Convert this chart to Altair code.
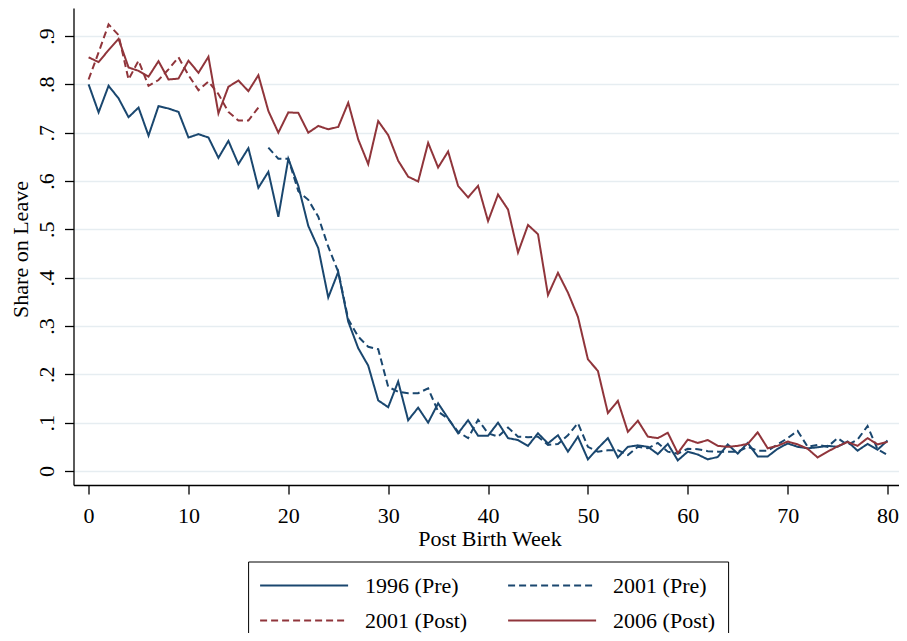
import altair as alt
import pandas as pd

# ---- data ----
weeks_all = list(range(0, 81))

share_1996_pre = [
    0.800, 0.742, 0.797, 0.771, 0.732, 0.752, 0.694, 0.755, 0.750, 0.743,
    0.690, 0.697, 0.690, 0.648, 0.683, 0.635, 0.668, 0.586, 0.619, 0.526,
    0.646, 0.590, 0.507, 0.461, 0.359, 0.412, 0.309, 0.254, 0.218, 0.146,
    0.132, 0.185, 0.105, 0.131, 0.100, 0.140, 0.109, 0.078, 0.105, 0.073,
    0.073, 0.100, 0.068, 0.064, 0.052, 0.078, 0.057, 0.074, 0.040, 0.071,
    0.024, 0.047, 0.068, 0.028, 0.050, 0.053, 0.050, 0.035, 0.056, 0.022,
    0.040, 0.034, 0.024, 0.029, 0.055, 0.036, 0.058, 0.030, 0.030, 0.046,
    0.057, 0.050, 0.047, 0.049, 0.052, 0.050, 0.061, 0.042, 0.056, 0.044,
    0.063,
]

weeks_2001_post = list(range(0, 18))
share_2001_post = [
    0.810, 0.866, 0.924, 0.902, 0.810, 0.849, 0.797, 0.809, 0.831, 0.856,
    0.819, 0.788, 0.806, 0.780, 0.743, 0.725, 0.725, 0.752,
]

weeks_2001_pre = list(range(18, 81))
share_2001_pre = [
    0.669, 0.646, 0.646, 0.579, 0.561, 0.526, 0.464, 0.412, 0.314, 0.278,
    0.257, 0.252, 0.174, 0.164, 0.161, 0.161, 0.171, 0.123, 0.108, 0.081,
    0.068, 0.106, 0.078, 0.071, 0.090, 0.071, 0.070, 0.071, 0.054, 0.056,
    0.074, 0.099, 0.050, 0.040, 0.043, 0.043, 0.033, 0.050, 0.047, 0.058,
    0.040, 0.036, 0.046, 0.045, 0.041, 0.040, 0.040, 0.040, 0.050, 0.042,
    0.042, 0.055, 0.068, 0.083, 0.050, 0.054, 0.050, 0.068, 0.054, 0.065,
    0.093, 0.045, 0.033,
]

share_2006_post = [
    0.856, 0.846, 0.871, 0.894, 0.835, 0.828, 0.816, 0.848, 0.810, 0.812,
    0.849, 0.824, 0.857, 0.740, 0.795, 0.808, 0.786, 0.819, 0.745, 0.700,
    0.742, 0.741, 0.700, 0.714, 0.707, 0.712, 0.762, 0.686, 0.635, 0.724,
    0.695, 0.642, 0.609, 0.599, 0.679, 0.628, 0.661, 0.590, 0.566, 0.590,
    0.517, 0.572, 0.541, 0.452, 0.509, 0.490, 0.364, 0.410, 0.369, 0.319,
    0.231, 0.207, 0.120, 0.145, 0.081, 0.104, 0.071, 0.068, 0.079, 0.037,
    0.065, 0.058, 0.064, 0.052, 0.050, 0.052, 0.056, 0.080, 0.047, 0.052,
    0.061, 0.055, 0.046, 0.028, 0.040, 0.051, 0.060, 0.052, 0.068, 0.055,
    0.060,
]

series_order = ["1996 (Pre)", "2001 (Pre)", "2001 (Post)", "2006 (Post)"]
series_colors = ["#1a476f", "#1a476f", "#90353b", "#90353b"]
series_dashes = [[1, 0], [7, 4], [7, 4], [1, 0]]

x_ticks = [0, 10, 20, 30, 40, 50, 60, 70, 80]
y_ticks = [0.0, 0.1, 0.2, 0.3, 0.4, 0.5, 0.6, 0.7, 0.8, 0.9]

rows = []
for w, v in zip(weeks_all, share_1996_pre):
    rows.append({"week": w, "share": v, "series": "1996 (Pre)"})
for w, v in zip(weeks_2001_pre, share_2001_pre):
    rows.append({"week": w, "share": v, "series": "2001 (Pre)"})
for w, v in zip(weeks_2001_post, share_2001_post):
    rows.append({"week": w, "share": v, "series": "2001 (Post)"})
for w, v in zip(weeks_all, share_2006_post):
    rows.append({"week": w, "share": v, "series": "2006 (Post)"})
df = pd.DataFrame(rows)

FONT = "Liberation Serif"


def make_legend():
    return alt.Legend(
        title=None,
        orient="none",
        direction="horizontal",
        legendX=174.6,
        legendY=553.5,
        columns=2,
        symbolType="M-4,0H4",
        symbolSize=484,
        symbolStrokeWidth=2,
        symbolOffset=32,
        labelOffset=49,
        labelFont=FONT,
        labelFontSize=22,
        labelColor="black",
        labelLimit=0,
        strokeColor="black",
        fillColor="white",
        padding=12,
        rowPadding=12,
        columnPadding=36,
    )


chart = (
    alt.Chart(df)
    .mark_line(strokeWidth=2)
    .encode(
        x=alt.X(
            "week:Q",
            scale=alt.Scale(domain=[-1.512, 81.15], nice=False, zero=False),
            axis=alt.Axis(
                values=x_ticks,
                title="Post Birth Week",
                grid=False,
                labelBaseline="alphabetic",
                labelPadding=28,
                titleX=416,
                titleY=60,
                titleBaseline="alphabetic",
            ),
        ),
        y=alt.Y(
            "share:Q",
            scale=alt.Scale(domain=[-0.029, 0.958], nice=False, zero=False),
            axis=alt.Axis(
                values=y_ticks,
                title="Share on Leave",
                grid=True,
                gridColor="#e6edf1",
                gridWidth=1.6,
                labelExpr="datum.value == 0 ? '0' : '.' + round(datum.value * 10)",
                labelAngle=270,
                labelAlign="center",
                labelBaseline="alphabetic",
                labelPadding=11,
                titleAngle=270,
                titleX=-46.5,
                titleY=241,
                titleAlign="center",
                titleBaseline="alphabetic",
            ),
        ),
        color=alt.Color(
            "series:N",
            sort=series_order,
            scale=alt.Scale(domain=series_order, range=series_colors),
            legend=make_legend(),
        ),
        strokeDash=alt.StrokeDash(
            "series:N",
            sort=series_order,
            scale=alt.Scale(domain=series_order, range=series_dashes),
            legend=make_legend(),
        ),
    )
    .properties(
        width=825.5,
        height=477,
        padding={"left": 65.5, "top": 0, "right": 0, "bottom": 148},
        autosize=alt.AutoSizeParams(type="none"),
        background="white",
    )
    .configure_view(stroke="transparent")
    .configure_axis(
        labelFont=FONT,
        labelFontSize=22,
        labelColor="black",
        titleFont=FONT,
        titleFontSize=22,
        titleFontWeight="normal",
        titleColor="black",
        domainColor="black",
        domainWidth=1.3,
        tickColor="black",
        tickWidth=1.3,
        tickSize=9,
    )
)

chart.save("out.html", embed_options={"renderer": "svg", "actions": False})
